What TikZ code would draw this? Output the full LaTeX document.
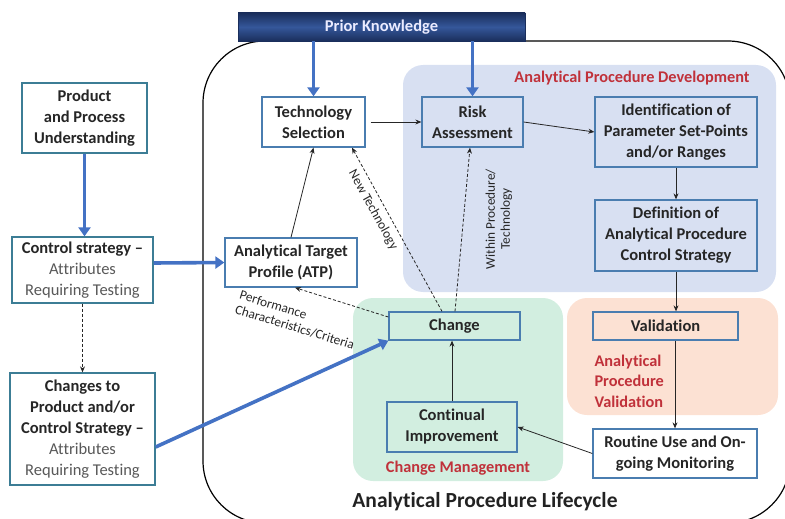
\documentclass[tikz,border=0pt]{standalone}
\usepackage{fontspec}
\setmainfont{Carlito}[Ligatures=NoCommon]
\usetikzlibrary{arrows.meta}

\definecolor{boxblue}{HTML}{4A7DB0}
\definecolor{leftblue}{HTML}{3C7D95}
\definecolor{thickblue}{HTML}{4472C4}
\definecolor{devfill}{HTML}{D8E0F2}
\definecolor{cmfill}{HTML}{D2EEE0}
\definecolor{valfill}{HTML}{FCE1D3}
\definecolor{redlabel}{HTML}{C0313A}
\definecolor{txt}{HTML}{262626}
\definecolor{greytxt}{HTML}{595959}
\definecolor{navytop}{HTML}{1A2E5C}
\definecolor{navymid}{HTML}{35579A}

\tikzset{
  stagebox/.style={draw=boxblue, line width=1.3pt, inner sep=0pt, align=center,
    text=txt, font=\fontsize{16.5}{21}\selectfont\bfseries},
  leftbox/.style={stagebox, draw=leftblue, fill=white},
  region/.style={rounded corners=20pt, draw=none},
  bigarrow/.style={draw=thickblue, line width=3.6pt,
    -{Triangle[width=12pt,length=9pt]}},
  flow/.style={draw=black!85, line width=0.8pt, -{Stealth[length=6pt,width=5pt]}},
  dflow/.style={flow, dashed, dash pattern=on 3pt off 2pt},
  redtitle/.style={text=redlabel, font=\fontsize{16.3}{20.5}\selectfont\bfseries},
  linklabel/.style={text=txt, font=\fontsize{13.3}{15}\selectfont, inner sep=0pt},
}
\newcommand{\soft}[1]{{\mdseries\color{greytxt}#1}}

\begin{document}
\begin{tikzpicture}[x=1pt,y=-1pt]
\useasboundingbox (0,0) rectangle (785,519);

% lifecycle outline
\draw[line width=1.2pt, rounded corners=62pt] (203,41) rectangle (790,523);

% phase regions
\fill[region, devfill] (403,65) rectangle (776,292);
\fill[region, cmfill]  (353,298) rectangle (563,481);
\fill[region, valfill] (567,298) rectangle (778,415);

% prior knowledge bar
\node[minimum width=287pt, minimum height=28pt, inner sep=0pt,
  draw=navytop, line width=0.8pt,
  top color=navytop, bottom color=navytop, middle color=navymid,
  text=blue!8!white, font=\fontsize{16.5}{18}\selectfont\bfseries]
  (prior) at (381.5,27) {Prior Knowledge};

% region titles
\node[redtitle] (devtitle) at (632,78) {Analytical Procedure Development};
\node[redtitle, align=left, anchor=west] (valtitle) at (591,381)
  {Analytical\\Procedure\\Validation};
\node[redtitle] (cmtitle) at (458,468) {Change Management};
\node[text=txt!90!black, font=\fontsize{21.5}{24}\selectfont\bfseries] (lifecycle)
  at (485,502) {Analytical Procedure Lifecycle};

% stages
\node[stagebox, fill=white, minimum width=103pt, minimum height=50pt] (tech)
  at (313.5,122) {Technology\\Selection};
\node[stagebox, minimum width=101pt, minimum height=50pt] (risk)
  at (472.5,122) {Risk\\Assessment};
\node[stagebox, minimum width=162pt, minimum height=70pt] (ident)
  at (676,132) {Identification of\\Parameter Set-Points\\and/or Ranges};
\node[stagebox, minimum width=162pt, minimum height=71pt] (defn)
  at (676,235.5) {Definition of\\Analytical Procedure\\Control Strategy};
\node[stagebox, fill=white, minimum width=132pt, minimum height=49pt] (atp)
  at (291,262.5) {Analytical Target\\Profile (ATP)};
\node[stagebox, minimum width=131pt, minimum height=28pt] (change)
  at (454.5,326) {Change};
\node[stagebox, minimum width=145pt, minimum height=28pt] (valid)
  at (665.5,326) {Validation};
\node[stagebox, minimum width=130pt, minimum height=50pt] (cont)
  at (452,427) {Continual\\Improvement};
\node[stagebox, fill=white, minimum width=164pt, minimum height=49pt] (routine)
  at (675,453.5) {Routine Use and On-\\going Monitoring};

% inputs on the left
\node[leftbox, minimum width=125pt, minimum height=70pt] (ppu)
  at (84.5,118) {Product\\and Process\\Understanding};
\node[leftbox, minimum width=141pt, minimum height=66pt] (cs)
  at (82.5,270) {Control strategy --\\\soft{Attributes}\\\soft{Requiring Testing}};
\node[leftbox, minimum width=145pt, minimum height=112pt] (chg)
  at (82.5,429) {Changes to\\Product and/or\\Control Strategy --\\\soft{Attributes}\\\soft{Requiring Testing}};

% knowledge inputs
\draw[bigarrow] (tech.north |- prior.south) -- (tech.north);
\draw[bigarrow] (risk.north |- prior.south) -- (risk.north);
\draw[bigarrow] (ppu.south) -- (ppu.south |- cs.north);
\draw[bigarrow] ([yshift=7pt]cs.east) -- (atp.west);
\draw[bigarrow] ([yshift=-18pt]chg.east) -- (change.south west);
\draw[dflow] (cs.south) -- (chg.north);

% development flow
\draw[flow] ([xshift=5pt]tech.east) -- (risk.west);
\draw[flow] (risk.east) -- (ident.west);
\draw[flow] (ident.south) -- (defn.north);
\draw[flow] (defn.south) -- (defn.south |- valid.north);
\draw[flow] (routine.north |- valid.south) -- (routine.north);
\draw[flow] (routine.west) -- (cont.east);
\draw[flow] (cont.north) -- (cont.north |- change.south);
\draw[flow] (atp.north) -- (tech.south);

% change feedback
\draw[dflow] ([xshift=-12.5pt]change.north) -- ([xshift=38.5pt]tech.south);
\draw[dflow] ([xshift=0.5pt]change.north) -- ([xshift=-2.5pt]risk.south);
\draw[dflow] ([yshift=9pt]change.west) -- ([xshift=4pt]atp.south);

\node[linklabel, rotate=-61] (newtech) at (373,210) {New Technology};
\node[linklabel, rotate=90, align=center] (within) at (499,219)
  {Within Procedure/\\Technology};
\node[linklabel, rotate=-17, align=left] (perf) at (297,320)
  {Performance\\Characteristics/Criteria};
\end{tikzpicture}
\end{document}
